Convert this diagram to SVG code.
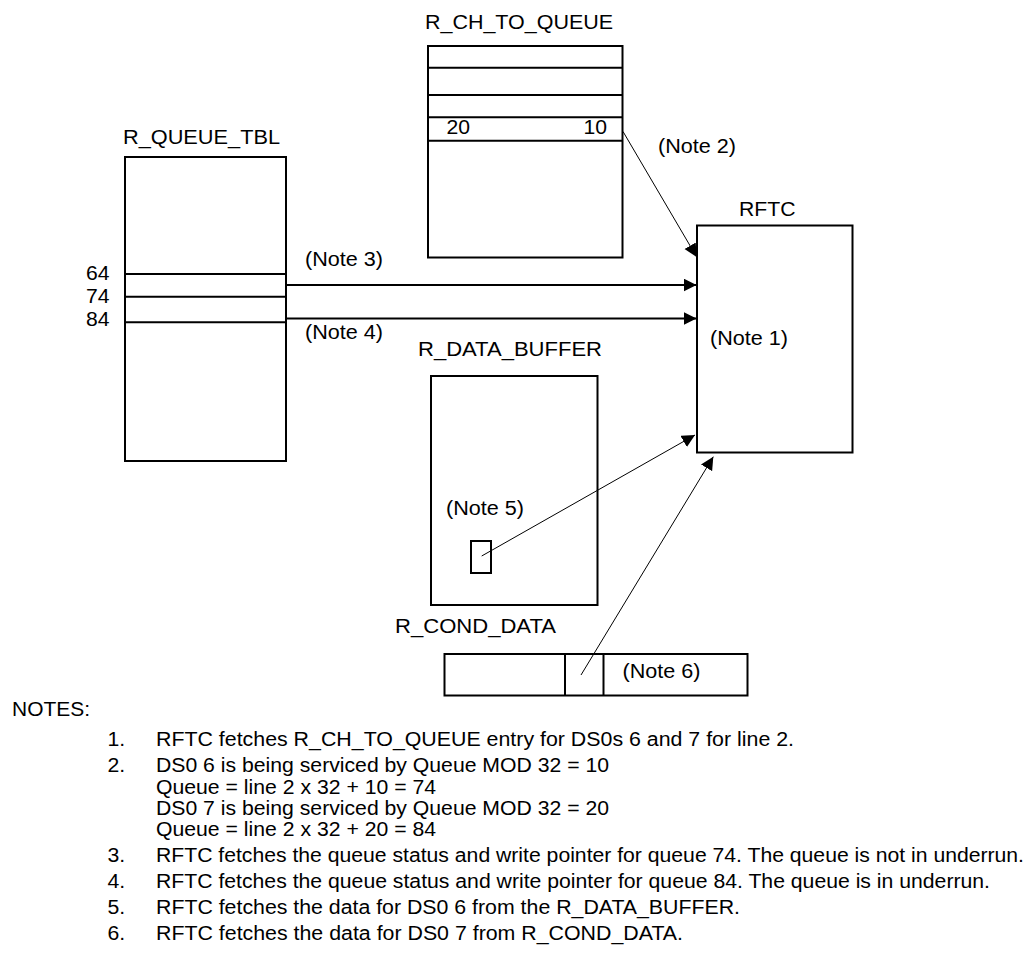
<svg xmlns="http://www.w3.org/2000/svg" width="1030" height="979" viewBox="0 0 1030 979">
<style>
text{font-family:"Liberation Sans",Arial,sans-serif;font-size:20px;fill:#000}
#notes text{font-size:19.5px}
.box{fill:#fff;stroke:#000;stroke-width:2}
.ln{stroke:#000;stroke-width:2;fill:none}
.thin{stroke:#000;stroke-width:1;fill:none}
</style>
<defs>
<marker id="ah" markerUnits="userSpaceOnUse" markerWidth="14" markerHeight="14" refX="13" refY="6.5" orient="auto">
<path d="M0,0 L13,6.5 L0,13 z" fill="#000"/>
</marker>
</defs>
<rect width="1030" height="979" fill="#fff"/>
<g id="r_ch_to_queue">
<text x="425" y="29" textLength="188" lengthAdjust="spacingAndGlyphs">R_CH_TO_QUEUE</text>
<rect class="box" x="428" y="46" width="194.5" height="211.5"/>
<line class="ln" x1="428" y1="67.7" x2="622.5" y2="67.7"/>
<line class="ln" x1="428" y1="95" x2="622.5" y2="95"/>
<line class="ln" x1="428" y1="117.3" x2="622.5" y2="117.3"/>
<line class="ln" x1="428" y1="140.7" x2="622.5" y2="140.7"/>
<text x="446.5" y="134" textLength="23.5" lengthAdjust="spacingAndGlyphs">20</text>
<text x="583.5" y="134" textLength="23.5" lengthAdjust="spacingAndGlyphs">10</text>
</g>
<g id="r_queue_tbl">
<text x="123" y="144" textLength="157" lengthAdjust="spacingAndGlyphs">R_QUEUE_TBL</text>
<rect class="box" x="125" y="157" width="161" height="304"/>
<line class="ln" x1="125" y1="274" x2="286" y2="274"/>
<line class="ln" x1="125" y1="296.7" x2="286" y2="296.7"/>
<line class="ln" x1="125" y1="322.3" x2="286" y2="322.3"/>
<text x="86" y="279.5" textLength="23.5" lengthAdjust="spacingAndGlyphs">64</text>
<text x="86" y="302.5" textLength="23.5" lengthAdjust="spacingAndGlyphs">74</text>
<text x="86" y="325.5" textLength="23.5" lengthAdjust="spacingAndGlyphs">84</text>
</g>
<g id="rftc">
<text x="739" y="216" textLength="56.5" lengthAdjust="spacingAndGlyphs">RFTC</text>
<rect class="box" x="697" y="225.5" width="155.5" height="227"/>
<text x="710" y="345" textLength="78" lengthAdjust="spacingAndGlyphs">(Note 1)</text>
</g>
<g id="r_data_buffer">
<text x="418" y="356" textLength="184" lengthAdjust="spacingAndGlyphs">R_DATA_BUFFER</text>
<rect class="box" x="431" y="376" width="166.5" height="229"/>
<rect class="box" x="471" y="541" width="20" height="32"/>
<text x="446" y="515" textLength="78" lengthAdjust="spacingAndGlyphs">(Note 5)</text>
</g>
<g id="r_cond_data">
<text x="395" y="633" textLength="161" lengthAdjust="spacingAndGlyphs">R_COND_DATA</text>
<rect class="box" x="444.5" y="654" width="303" height="41.5"/>
<line class="ln" x1="565" y1="654" x2="565" y2="695.5"/>
<line class="ln" x1="603.5" y1="654" x2="603.5" y2="695.5"/>
<text x="622.5" y="678" textLength="78" lengthAdjust="spacingAndGlyphs">(Note 6)</text>
</g>
<g id="connectors">
<line class="thin" x1="623" y1="131.5" x2="696.7" y2="257" marker-end="url(#ah)"/>
<line class="ln" x1="287" y1="285" x2="696.5" y2="285" marker-end="url(#ah)"/>
<line class="ln" x1="287" y1="318.5" x2="696.5" y2="318.5" marker-end="url(#ah)"/>
<line class="thin" x1="481.7" y1="556" x2="695" y2="435" marker-end="url(#ah)"/>
<line class="thin" x1="581" y1="675" x2="713.3" y2="456.7" marker-end="url(#ah)"/>
<text x="658" y="153" textLength="78" lengthAdjust="spacingAndGlyphs">(Note 2)</text>
<text x="305" y="266" textLength="78" lengthAdjust="spacingAndGlyphs">(Note 3)</text>
<text x="305" y="339" textLength="78" lengthAdjust="spacingAndGlyphs">(Note 4)</text>
</g>
<g id="notes">
<text x="12" y="716" textLength="78" lengthAdjust="spacingAndGlyphs">NOTES:</text>
<text x="107.5" y="746" textLength="17.7" lengthAdjust="spacingAndGlyphs">1.</text>
<text x="156" y="746" textLength="638" lengthAdjust="spacingAndGlyphs">RFTC fetches R_CH_TO_QUEUE entry for DS0s 6 and 7 for line 2.</text>
<text x="107.5" y="772" textLength="17.7" lengthAdjust="spacingAndGlyphs">2.</text>
<text x="156" y="772" textLength="453" lengthAdjust="spacingAndGlyphs">DS0 6 is being serviced by Queue MOD 32 = 10</text>
<text x="156" y="794" textLength="280" lengthAdjust="spacingAndGlyphs">Queue = line 2 x 32 + 10 = 74</text>
<text x="156" y="815" textLength="453" lengthAdjust="spacingAndGlyphs">DS0 7 is being serviced by Queue MOD 32 = 20</text>
<text x="156" y="836" textLength="280" lengthAdjust="spacingAndGlyphs">Queue = line 2 x 32 + 20 = 84</text>
<text x="107.5" y="862" textLength="17.7" lengthAdjust="spacingAndGlyphs">3.</text>
<text x="156" y="862" textLength="868" lengthAdjust="spacingAndGlyphs">RFTC fetches the queue status and write pointer for queue 74. The queue is not in underrun.</text>
<text x="107.5" y="888" textLength="17.7" lengthAdjust="spacingAndGlyphs">4.</text>
<text x="156" y="888" textLength="834" lengthAdjust="spacingAndGlyphs">RFTC fetches the queue status and write pointer for queue 84. The queue is in underrun.</text>
<text x="107.5" y="914" textLength="17.7" lengthAdjust="spacingAndGlyphs">5.</text>
<text x="156" y="914" textLength="584" lengthAdjust="spacingAndGlyphs">RFTC fetches the data for DS0 6 from the R_DATA_BUFFER.</text>
<text x="107.5" y="940" textLength="17.7" lengthAdjust="spacingAndGlyphs">6.</text>
<text x="156" y="940" textLength="527" lengthAdjust="spacingAndGlyphs">RFTC fetches the data for DS0 7 from R_COND_DATA.</text>
</g>
</svg>
